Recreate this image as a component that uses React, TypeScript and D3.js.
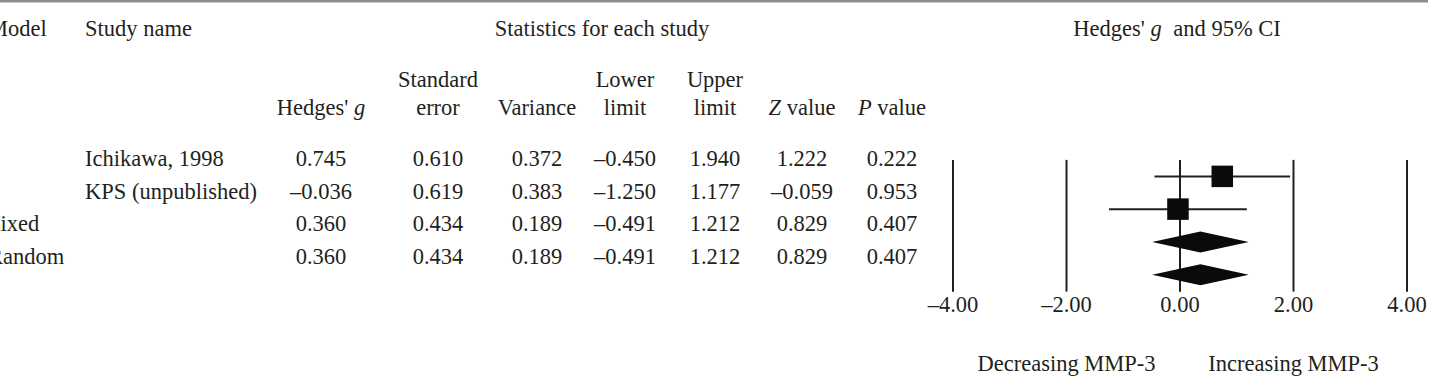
import React, { useEffect, useRef } from 'react';
import { select, scaleLinear, scaleBand, format, range } from 'd3';

// study rows, then the two pooled models
const models = ['', '', 'Fixed', 'Random'];
const studies = ['Ichikawa, 1998', 'KPS (unpublished)', '', ''];
const hedgesG = [0.745, -0.036, 0.36, 0.36];
const stdError = [0.61, 0.619, 0.434, 0.434];
const variance = [0.372, 0.383, 0.189, 0.189];
const lowerLimit = [-0.45, -1.25, -0.491, -0.491];
const upperLimit = [1.94, 1.177, 1.212, 1.212];
const zValue = [1.222, -0.059, 0.829, 0.829];
const pValue = [0.222, 0.953, 0.407, 0.407];
const isSummary = [false, false, true, true];
const axisTicks = [-4, -2, 0, 2, 4];

const W = 1436;
const H = 388;
const FONT = '"Liberation Serif", "Times New Roman", serif';
const INK = '#231f20';

// journal style: en dash for negatives
const dash = (s: string) => s.replace('\u2212', '\u2013');

const ForestPlot = () => {
  const svgRef = useRef<SVGSVGElement>(null);

  useEffect(() => {
    const svg = select(svgRef.current);
    svg.selectAll('*').remove();

    const f3 = (v: number) => dash(format('.3f')(v));
    const f2 = (v: number) => dash(format('.2f')(v));

    const x = scaleLinear().domain([-4, 4]).range([953, 1407]);
    const rowIdx = range(hedgesG.length);
    // text baselines for the table rows
    const rowY = scaleBand<number>().domain(rowIdx).range([142.5, 273.5]);
    const baseline = (i: number) => rowY(i)! + rowY.bandwidth() / 2 + 7;
    const markY = (i: number) => baseline(i) + 10.5;

    svg.append('line')
      .attr('x1', 0).attr('x2', 1428)
      .attr('y1', 1.2).attr('y2', 1.2)
      .attr('stroke', '#8c8c8c').attr('stroke-width', 2.5);

    const g = svg.append('g')
      .attr('font-family', FONT)
      .attr('font-size', 22.5)
      .attr('fill', INK);

    const text = (tx: number, ty: number, anchor: string, s: string) =>
      g.append('text').attr('x', tx).attr('y', ty).attr('text-anchor', anchor).text(s);

    // headers
    text(-12, 36, 'start', 'Model');
    text(85, 36, 'start', 'Study name');
    text(602, 36, 'middle', 'Statistics for each study');
    const ci = g.append('text').attr('x', x(0) - 3).attr('y', 36).attr('text-anchor', 'middle');
    ci.append('tspan').text("Hedges' ");
    ci.append('tspan').attr('font-style', 'italic').text('g');
    ci.append('tspan').attr('dx', 6).text(' and 95% CI');

    const cols = [
      { cx: 321, top: '', bottom: "Hedges' ", italic: 'g', after: '', vals: hedgesG },
      { cx: 438, top: 'Standard', bottom: 'error', italic: '', after: '', vals: stdError },
      { cx: 537, top: '', bottom: 'Variance', italic: '', after: '', vals: variance },
      { cx: 625, top: 'Lower', bottom: 'limit', italic: '', after: '', vals: lowerLimit },
      { cx: 715, top: 'Upper', bottom: 'limit', italic: '', after: '', vals: upperLimit },
      { cx: 802, top: '', bottom: '', italic: 'Z', after: ' value', vals: zValue },
      { cx: 892, top: '', bottom: '', italic: 'P', after: ' value', vals: pValue },
    ];

    cols.forEach(c => {
      if (c.top) text(c.cx, 87, 'middle', c.top);
      const t = g.append('text').attr('x', c.cx).attr('y', 115).attr('text-anchor', 'middle');
      if (c.bottom) t.append('tspan').text(c.bottom);
      if (c.italic) t.append('tspan').attr('font-style', 'italic').text(c.italic);
      if (c.after) t.append('tspan').text(c.after);
      c.vals.forEach((v, i) => text(c.cx, baseline(i), 'middle', f3(v)));
    });

    rowIdx.forEach(i => {
      if (models[i]) text(-12, baseline(i), 'start', models[i]);
      if (studies[i]) text(85, baseline(i), 'start', studies[i]);
    });

    // plot area
    const plot = svg.append('g');
    const top = markY(0) - 16.5;
    const bottom = markY(rowIdx.length - 1) + 17;

    plot.selectAll('line.grid')
      .data(axisTicks)
      .join('line')
      .attr('class', 'grid')
      .attr('x1', d => x(d)).attr('x2', d => x(d))
      .attr('y1', top).attr('y2', bottom)
      .attr('stroke', INK).attr('stroke-width', 2);

    const studyRows = rowIdx.filter(i => !isSummary[i]);
    const poolRows = rowIdx.filter(i => isSummary[i]);

    plot.selectAll('line.ci')
      .data(studyRows)
      .join('line')
      .attr('class', 'ci')
      .attr('x1', i => x(lowerLimit[i])).attr('x2', i => x(upperLimit[i]))
      .attr('y1', i => markY(i)).attr('y2', i => markY(i))
      .attr('stroke', INK).attr('stroke-width', 2);

    const box = 21.5;
    plot.selectAll('rect.est')
      .data(studyRows)
      .join('rect')
      .attr('class', 'est')
      .attr('x', i => x(hedgesG[i]) - box / 2)
      .attr('y', i => markY(i) - box / 2)
      .attr('width', box).attr('height', box)
      .attr('fill', '#0a0a0a');

    plot.selectAll('path.pool')
      .data(poolRows)
      .join('path')
      .attr('class', 'pool')
      .attr('d', i => {
        const y = markY(i);
        return `M${x(lowerLimit[i])},${y}L${x(hedgesG[i])},${y - 10.5}L${x(upperLimit[i])},${y}L${x(hedgesG[i])},${y + 10.5}Z`;
      })
      .attr('fill', '#0a0a0a');

    axisTicks.forEach(t => text(x(t), 312, 'middle', f2(t)));

    text(x(-2), 371, 'middle', 'Decreasing MMP-3');
    text(x(2), 371, 'middle', 'Increasing MMP-3');
  }, []);

  return (
    <svg
      ref={svgRef}
      width={W}
      height={H}
      style={{ position: 'absolute', left: 0, top: 0, background: '#fff' }}
    />
  );
};

export default function App() {
  return <ForestPlot />;
}
